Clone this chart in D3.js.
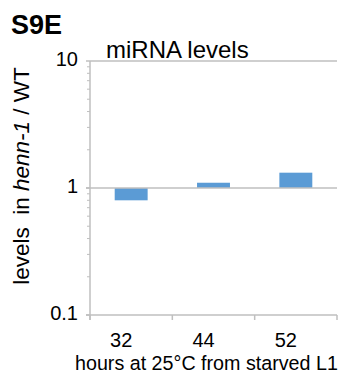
<!DOCTYPE html>
<html>
<head>
<meta charset="utf-8">
<script src="https://cdn.jsdelivr.net/npm/d3@7"></script>
<style>
  html, body { margin: 0; padding: 0; background: #fff; }
  text { font-family: "Liberation Sans", Arial, sans-serif; fill: #000; }
</style>
</head>
<body>
<svg id="chart" width="346" height="374"></svg>
<script>
// hours after starved-L1 release
const categories = ["32", "44", "52"];
// miRNA level ratio henn-1 / WT
const values = [0.80, 1.10, 1.32];
const yTickValues = [0.1, 1, 10];
const yTickLabels = ["0.1", "1", "10"];

const svg = d3.select("#chart");
const plotLeft = 90, plotRight = 337, plotTop = 61, plotBottom = 315;
const grey = "#bfbfbf";

const x = d3.scaleBand().domain(categories).range([plotLeft, plotRight]).paddingInner(0.6).paddingOuter(0.3);
const y = d3.scaleLog().domain([0.1, 10]).range([plotBottom, plotTop]);

// panel letter and title
svg.append("text").attr("x", 11).attr("y", 34).attr("font-size", 27).attr("font-weight", "bold").text("S9E");
svg.append("text").attr("x", 106).attr("y", 58).attr("font-size", 24).text("miRNA levels");

// top gridline at 10
svg.append("line").attr("x1", plotLeft).attr("x2", plotRight).attr("y1", y(10)).attr("y2", y(10))
  .attr("stroke", grey).attr("stroke-width", 1.5);

// y axis with major + minor ticks
const minor = [];
for (let d = 0.1; d < 10; d *= 10) for (let k = 2; k <= 9; k++) minor.push(+(d * k).toFixed(3));
svg.append("line").attr("x1", plotLeft).attr("x2", plotLeft).attr("y1", plotTop).attr("y2", plotBottom + 5)
  .attr("stroke", grey).attr("stroke-width", 1.5);
svg.selectAll(".minor").data(minor).join("line")
  .attr("x1", plotLeft - 3).attr("x2", plotLeft).attr("y1", d => y(d)).attr("y2", d => y(d))
  .attr("stroke", grey).attr("stroke-width", 1);
svg.selectAll(".major").data(yTickValues).join("line")
  .attr("x1", plotLeft - 4).attr("x2", plotLeft).attr("y1", d => y(d)).attr("y2", d => y(d))
  .attr("stroke", grey).attr("stroke-width", 1.5);
svg.selectAll(".ylab").data(yTickValues).join("text")
  .attr("x", 78).attr("y", d => y(d) - 2).attr("dy", "0.35em").attr("text-anchor", "end")
  .attr("font-size", 20).text((d, i) => yTickLabels[i]);

// bottom axis at 0.1 with category boundary ticks
svg.append("line").attr("x1", plotLeft - 4).attr("x2", plotRight).attr("y1", y(0.1)).attr("y2", y(0.1))
  .attr("stroke", grey).attr("stroke-width", 1.5);
const bounds = [plotLeft, ...categories.map((c, i) => plotLeft + (plotRight - plotLeft) * (i + 1) / categories.length)];
svg.selectAll(".xtick").data(bounds).join("line")
  .attr("x1", d => d).attr("x2", d => d).attr("y1", y(0.1)).attr("y2", y(0.1) + 5)
  .attr("stroke", grey).attr("stroke-width", 1.5);
svg.selectAll(".xlab").data(categories).join("text")
  .attr("x", d => x(d) + x.bandwidth() / 2 - 10).attr("y", 347).attr("text-anchor", "middle")
  .attr("font-size", 20).text(d => d);

// bars from the line at 1
svg.selectAll(".bar").data(values).join("rect")
  .attr("x", (d, i) => x(categories[i]))
  .attr("width", x.bandwidth())
  .attr("y", d => Math.min(y(d), y(1)))
  .attr("height", d => Math.abs(y(d) - y(1)))
  .attr("fill", "#5b9bd5");

// crossing line at 1
svg.append("line").attr("x1", plotLeft - 4).attr("x2", plotRight).attr("y1", y(1)).attr("y2", y(1))
  .attr("stroke", grey).attr("stroke-width", 1.5);

// axis titles
svg.append("text").attr("x", 75).attr("y", 370).attr("font-size", 19.7).text("hours at 25°C from starved L1");
const yt = svg.append("text").attr("transform", "translate(29,176) rotate(-90)")
  .attr("text-anchor", "middle").attr("font-size", 22.5);
yt.append("tspan").text("levels\u00a0\u00a0in ");
yt.append("tspan").attr("font-style", "italic").text("henn-1");
yt.append("tspan").text(" / WT");
</script>
</body>
</html>
